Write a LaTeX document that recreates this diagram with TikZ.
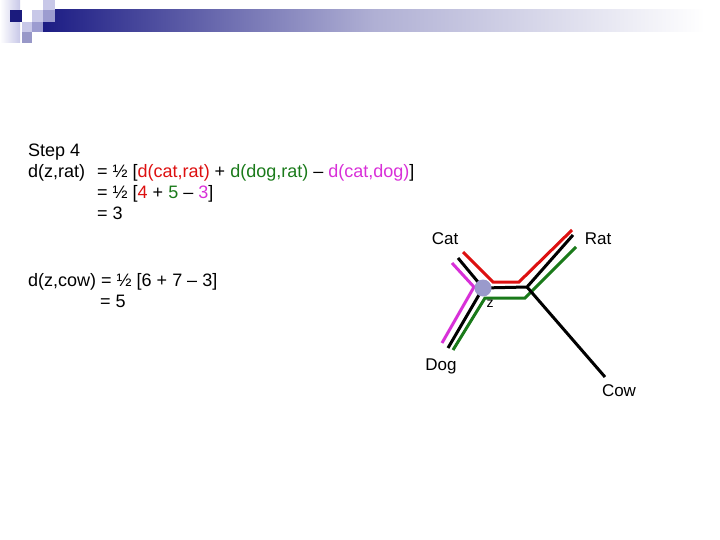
\documentclass[tikz,border=0pt]{standalone}
\usepackage{fontspec}
\setmainfont{Liberation Sans}
\definecolor{navy}{HTML}{1C1C84}
\definecolor{lav}{HTML}{C8C8E8}
\definecolor{lavmid}{HTML}{9C9CD0}
\definecolor{lavdk}{HTML}{9898C8}
\definecolor{tred}{HTML}{DD1010}
\definecolor{tgreen}{HTML}{1A7A1A}
\definecolor{tmag}{HTML}{D830D8}
\definecolor{zfill}{HTML}{9A9ACC}
\begin{document}
\begin{tikzpicture}[x=1pt,y=-1pt,
  txt/.style={anchor=base west,inner sep=0pt,font=\fontsize{18}{21}\selectfont},
  lbl/.style={anchor=base,inner sep=0pt,font=\fontsize{17}{20}\selectfont},
  branch/.style={line width=3pt}]
\useasboundingbox (0,0) rectangle (720,540);
% header decoration
\shade[left color=white,right color=lav] (0,0) rectangle (20,43);
\shade[left color=navy,right color=white,middle color=navy!35] (43,10) rectangle (705,32);
\fill[navy!95!black] (10,10) rectangle (22,22);
\fill[lav] (32,10) rectangle (43,22);
\fill[lav] (43,0) rectangle (55,10);
\fill[lavmid] (43,10) rectangle (55,22);
\fill[lav] (22,22) rectangle (32,32);
\fill[lavmid] (32,22) rectangle (43,32);
\fill[lavdk] (22,32) rectangle (32,43);
% text
\node[txt] (s4) at (28,157) {Step 4};
\node[txt] (l1a) at (28,178) {d(z,rat)};
\node[txt] (l1b) at (97,178) {= ½ [\textcolor{tred}{d(cat,rat)} + \textcolor{tgreen}{d(dog,rat)} – \textcolor{tmag}{d(cat,dog)}]};
\node[txt] (l2) at (97,199) {= ½ [\textcolor{tred}{4} + \textcolor{tgreen}{5} – \textcolor{tmag}{3}]};
\node[txt] (l3) at (97,220) {= 3};
\node[txt] (c1) at (28,286) {d(z,cow) = ½ [6 + 7 – 3]};
\node[txt] (c2) at (100,307) {= 5};
% tree labels
\node[lbl] (cat) at (445,244) {Cat};
\node[lbl] (rat) at (598,244) {Rat};
\node[lbl] (dog) at (441,370) {Dog};
\node[lbl] (cow) at (619,396) {Cow};
% tree coordinates
\coordinate (zc) at (483,288);
\coordinate (j) at (527,287);
\coordinate (catE) at (458,258);
\coordinate (ratE) at (573,235);
\coordinate (dogE) at (448,348);
\coordinate (cowE) at (605,377);
% coloured paths
\coordinate (r1) at (463,252); \coordinate (r2) at (493,282); \coordinate (r3) at (519,282); \coordinate (r4) at (572,230);
\coordinate (g1) at (453,350); \coordinate (g2) at (485,298); \coordinate (g3) at (525,298); \coordinate (g4) at (576,247);
\coordinate (m1) at (452,263); \coordinate (m2) at (474,287); \coordinate (m3) at (442,343);
\draw[branch,tred] (r1) -- (r2) -- (r3) -- (r4);
\draw[branch,tgreen] (g1) -- (g2) -- (g3) -- (g4);
\draw[branch,tmag] (m1) -- (m2) -- (m3);
% black tree
\draw[branch,black] (catE) -- (zc) -- (j) -- (ratE);
\draw[branch,black] (zc) -- (dogE);
\draw[branch,black] (j) -- (cowE);
\node[lbl,font=\fontsize{14}{16}\selectfont] (zl) at (490,307) {z};
\node[circle,fill=zfill,minimum size=17pt,inner sep=0pt] (z) at (zc) {};
\end{tikzpicture}
\end{document}
